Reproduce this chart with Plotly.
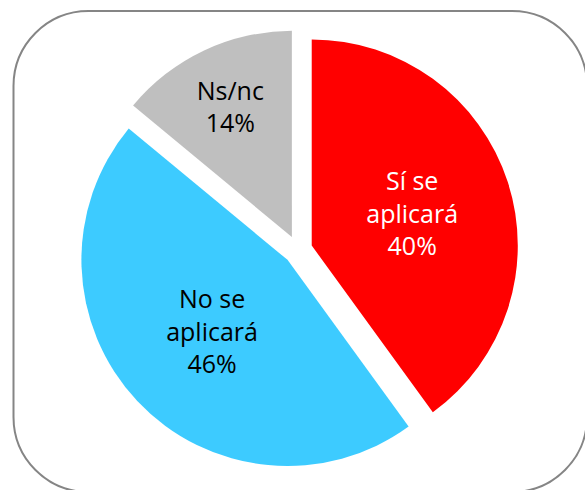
import plotly.graph_objects as go

labels = ["Sí se<br>aplicará", "No se<br>aplicará", "Ns/nc"]
values = [40, 46, 14]
colors = ["#FF0000", "#3DCBFF", "#BFBFBF"]
text_colors = ["#FFFFFF", "#000000", "#000000"]

W, H = 585, 490

def px(x):
    return x / W
def py(y):
    return 1 - y / H

# pie bounding box (window pixels)
cx, cy, rt = 298, 250, 220.5

fig = go.Figure(go.Pie(
    labels=labels,
    values=values,
    sort=False,
    direction="clockwise",
    rotation=0,
    pull=[0.07, 0.07, 0.07],
    marker=dict(colors=colors, line=dict(width=0)),
    texttemplate="%{label}<br>%{percent:.0%}",
    textposition="inside",
    insidetextorientation="horizontal",
    textfont=dict(family="Open Sans", size=25, color=text_colors),
    hoverinfo="label+percent",
    domain=dict(x=[px(cx - rt), px(cx + rt)], y=[py(cy + rt), py(cy - rt)]),
    showlegend=False,
))

# rounded border
x0, y0, x1, y1, R = 13.5, 11, 587, 492, 75
k = 0.5523 * R
pts = [
    f"M {px(x0 + R)} {py(y0)}",
    f"L {px(x1 - R)} {py(y0)}",
    f"C {px(x1 - R + k)} {py(y0)} {px(x1)} {py(y0 + R - k)} {px(x1)} {py(y0 + R)}",
    f"L {px(x1)} {py(y1 - R)}",
    f"C {px(x1)} {py(y1 - R + k)} {px(x1 - R + k)} {py(y1)} {px(x1 - R)} {py(y1)}",
    f"L {px(x0 + R)} {py(y1)}",
    f"C {px(x0 + R - k)} {py(y1)} {px(x0)} {py(y1 - R + k)} {px(x0)} {py(y1 - R)}",
    f"L {px(x0)} {py(y0 + R)}",
    f"C {px(x0)} {py(y0 + R - k)} {px(x0 + R - k)} {py(y0)} {px(x0 + R)} {py(y0)}",
    "Z",
]
fig.add_shape(type="path", xref="paper", yref="paper", path=" ".join(pts),
              line=dict(color="#858585", width=2), fillcolor="rgba(0,0,0,0)", layer="below")

fig.update_layout(
    width=W, height=H,
    margin=dict(l=0, r=0, t=0, b=0),
    paper_bgcolor="white",
    plot_bgcolor="white",
    font=dict(family="Open Sans"),
)

fig.write_html(
    "out.html",
    config={"displayModeBar": False},
    post_script="document.body.style.margin='0';document.body.style.overflow='hidden';",
)
